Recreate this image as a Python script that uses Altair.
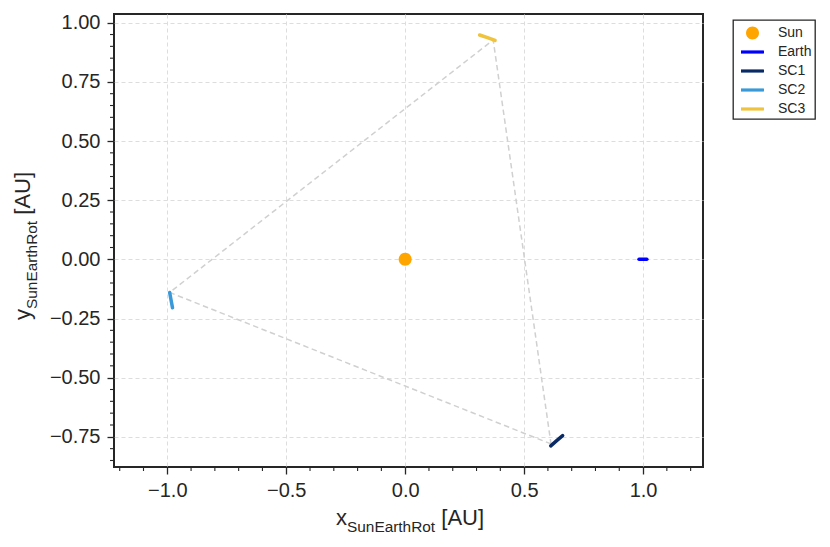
import altair as alt
import pandas as pd

# ---- data ----
bodies = ["Sun", "Earth", "SC1", "SC2", "SC3"]
body_colors = ["#ffa500", "#0000ff", "#0a2a66", "#3a9ad9", "#f0c33c"]
traj_bodies = ["Earth", "SC1", "SC2", "SC3"]
traj_colors = ["#0000ff", "#0a2a66", "#3a9ad9", "#f0c33c"]

sun_x = [0.0]
sun_y = [0.0]
earth_x = [0.983, 1.0, 1.016]
earth_y = [0.0, 0.0, 0.0]
sc1_x = [0.612, 0.637, 0.662]
sc1_y = [-0.788, -0.766, -0.745]
sc2_x = [-0.99, -0.984, -0.978]
sc2_y = [-0.140, -0.173, -0.205]
sc3_x = [0.313, 0.346, 0.378]
sc3_y = [0.948, 0.937, 0.925]

tri_x = [0.613, -0.99, 0.370, 0.613]
tri_y = [-0.780, -0.140, 0.927, -0.780]

x_major = [-1.0, -0.5, 0.0, 0.5, 1.0]
y_major = [-0.75, -0.5, -0.25, 0.0, 0.25, 0.5, 0.75, 1.0]
x_minor = [-1.2, -1.1, -0.9, -0.8, -0.7, -0.6, -0.4, -0.3, -0.2, -0.1,
           0.1, 0.2, 0.3, 0.4, 0.6, 0.7, 0.8, 0.9, 1.1, 1.2]
y_minor = [-0.85, -0.8, -0.7, -0.65, -0.6, -0.55, -0.45, -0.4, -0.35, -0.3,
           -0.2, -0.15, -0.1, -0.05, 0.05, 0.1, 0.15, 0.2, 0.3, 0.35, 0.4,
           0.45, 0.55, 0.6, 0.65, 0.7, 0.8, 0.85, 0.9, 0.95]
x_domain = [-1.224, 1.252]
y_domain = [-0.8775, 1.0367]

x_title = ["x", "SunEarthRot", "[AU]"]
y_title = ["y", "SunEarthRot", "[AU]"]

# ---- tables ----
rows = []
for name, xs, ys in [("Earth", earth_x, earth_y), ("SC1", sc1_x, sc1_y),
                     ("SC2", sc2_x, sc2_y), ("SC3", sc3_x, sc3_y)]:
    for i, (a, b) in enumerate(zip(xs, ys)):
        rows.append({"body": name, "x": a, "y": b, "i": i})
traj = pd.DataFrame(rows)
sun = pd.DataFrame({"body": ["Sun"], "x": sun_x, "y": sun_y})
tri = pd.DataFrame({"x": tri_x, "y": tri_y, "i": list(range(len(tri_x)))})
xmin_df = pd.DataFrame({"v": x_minor})
ymin_df = pd.DataFrame({"v": y_minor})

W, H = 589, 453

xscale = alt.Scale(domain=x_domain, nice=False, zero=False)
yscale = alt.Scale(domain=y_domain, nice=False, zero=False)
xaxis = alt.Axis(values=x_major, format=".1f", title="")
yaxis = alt.Axis(values=y_major, format=".2f", title="")


def X(f):
    return alt.X(f, type="quantitative", scale=xscale, axis=xaxis)


def Y(f):
    return alt.Y(f, type="quantitative", scale=yscale, axis=yaxis)


circle_path = "M-0.65,0A0.65,0.65,0,1,0,0.65,0A0.65,0.65,0,1,0,-0.65,0Z"
line_path = "M-1.15,-0.16H1.15V0.16H-1.15Z"

triangle = alt.Chart(tri).mark_line(
    color="#d0d0d0", strokeWidth=1.5, strokeDash=[5.5, 3.5]
).encode(x=X("x"), y=Y("y"), order="i:Q")

lines = alt.Chart(traj).mark_line(strokeWidth=3.5, strokeCap="round").encode(
    x=X("x"), y=Y("y"),
    stroke=alt.Stroke("body:N", scale=alt.Scale(domain=traj_bodies, range=traj_colors), legend=None),
    detail="body:N",
    order="i:Q",
)

sun_pt = alt.Chart(sun).mark_point(filled=True, size=400, opacity=1, strokeWidth=0).encode(
    x=X("x"), y=Y("y"),
    color=alt.Color("body:N", scale=alt.Scale(domain=bodies, range=body_colors),
                    legend=alt.Legend(title=None)),
    shape=alt.Shape("body:N", scale=alt.Scale(domain=bodies,
                    range=[circle_path, line_path, line_path, line_path, line_path]),
                    legend=alt.Legend(title=None)),
)

xminor = alt.Chart(xmin_df).mark_rule(color="#262626", strokeWidth=1.1).encode(
    x=X("v"), y=alt.value(H), y2=alt.value(H + 4)
)
yminor = alt.Chart(ymin_df).mark_rule(color="#262626", strokeWidth=1.1).encode(
    y=Y("v"), x=alt.value(0), x2=alt.value(-4)
)

font = "Liberation Sans"
tc = "#262626"
MS, SS = 22, 15.4
xs0 = 222
xt1 = alt.Chart(pd.DataFrame({"t": [x_title[0]]})).mark_text(
    align="left", baseline="alphabetic", font=font, fontSize=MS, color=tc
).encode(text="t:N", x=alt.value(xs0), y=alt.value(511))
xt2 = alt.Chart(pd.DataFrame({"t": [x_title[1]]})).mark_text(
    align="left", baseline="alphabetic", font=font, fontSize=SS, color=tc
).encode(text="t:N", x=alt.value(xs0 + 11), y=alt.value(518))
xt3 = alt.Chart(pd.DataFrame({"t": [x_title[2]]})).mark_text(
    align="left", baseline="alphabetic", font=font, fontSize=MS, color=tc
).encode(text="t:N", x=alt.value(xs0 + 105.3), y=alt.value(511))

ys0 = 306
yt1 = alt.Chart(pd.DataFrame({"t": [y_title[0]]})).mark_text(
    align="left", baseline="alphabetic", font=font, fontSize=MS, color=tc, angle=270
).encode(text="t:N", x=alt.value(-84), y=alt.value(ys0))
yt2 = alt.Chart(pd.DataFrame({"t": [y_title[1]]})).mark_text(
    align="left", baseline="alphabetic", font=font, fontSize=SS, color=tc, angle=270
).encode(text="t:N", x=alt.value(-77), y=alt.value(ys0 - 11))
yt3 = alt.Chart(pd.DataFrame({"t": [y_title[2]]})).mark_text(
    align="left", baseline="alphabetic", font=font, fontSize=MS, color=tc, angle=270
).encode(text="t:N", x=alt.value(-84), y=alt.value(ys0 - 105.3))

chart = alt.layer(
    triangle, lines, sun_pt, xminor, yminor, xt1, xt2, xt3, yt1, yt2, yt3
).properties(
    width=W, height=H,
    autosize=alt.AutoSizeParams(type="none"),
    padding={"left": 106, "top": 6, "right": 119, "bottom": 72},
    background="white",
).configure_view(
    stroke="#262626", strokeWidth=2
).configure_axis(
    grid=True, gridColor="#dddddd", gridDash=[4, 3], gridWidth=1,
    domain=False, tickColor="#262626", tickWidth=1.3, tickSize=7,
    labelFont=font, labelFontSize=20, labelColor=tc,
).configure_axisX(
    labelPadding=6
).configure_axisY(
    labelPadding=7
).configure_legend(
    orient="none", legendX=619, legendY=6, padding=3,
    strokeColor="#262626", strokeWidth=1.3, fillColor="white", cornerRadius=0,
    labelFont=font, labelFontSize=14, labelColor=tc,
    symbolSize=400, symbolOffset=6.5, labelOffset=15.5, rowPadding=2,
    symbolStrokeWidth=0,
)

chart.save("out.html", embed_options={"renderer": "svg", "actions": False})
